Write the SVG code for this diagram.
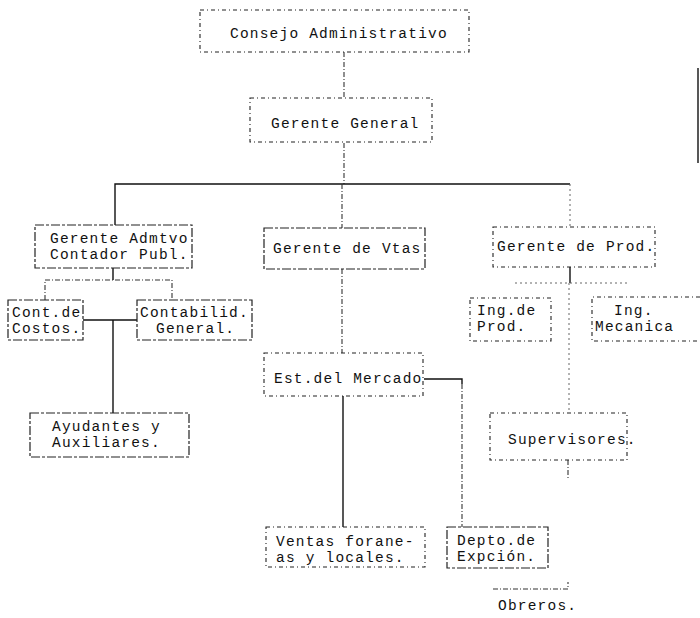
<svg xmlns="http://www.w3.org/2000/svg" width="700" height="618" viewBox="0 0 700 618">
<style>
.bx{fill:none;stroke:#222;stroke-width:1.2;stroke-dasharray:9 2 3 2}
.bx2{fill:none;stroke:#222;stroke-width:1.1;stroke-dasharray:4 3 1 3}
.ln{fill:none;stroke:#111;stroke-width:1.4}
.dl{fill:none;stroke:#333;stroke-width:1.1;stroke-dasharray:5 2 1 2}
.fl{fill:none;stroke:#666;stroke-width:1;stroke-dasharray:2 3}
text{font-family:"Liberation Mono","DejaVu Sans Mono",monospace;font-size:14.5px;letter-spacing:1.2px;fill:#111}
</style>
<rect width="700" height="618" fill="#fff"/>
<g id="connectors">
<line class="dl" x1="344" y1="52" x2="344" y2="97"/>
<line class="dl" x1="344" y1="143" x2="344" y2="184"/>
<polyline class="ln" points="115,225 115,184 570,184"/>
<line class="dl" x1="342" y1="184" x2="342" y2="228"/>
<line class="fl" x1="570" y1="184" x2="570" y2="227"/>
<line class="ln" x1="113" y1="268" x2="113" y2="280"/>
<polyline class="dl" points="45,300 45,280 172,280 172,300"/>
<line class="ln" x1="83" y1="320" x2="137" y2="320"/>
<line class="ln" x1="113" y1="320" x2="113" y2="413"/>
<line class="dl" x1="342" y1="269" x2="342" y2="353"/>
<line class="ln" x1="343" y1="396" x2="343" y2="527"/>
<polyline class="ln" points="424,379 462,379 462,384"/>
<line class="dl" x1="462" y1="384" x2="462" y2="527"/>
<line class="ln" x1="570" y1="267" x2="570" y2="283"/>
<line class="fl" x1="515" y1="283" x2="630" y2="283"/>
<line class="fl" x1="569" y1="283" x2="569" y2="413"/>
<line class="dl" x1="568" y1="460" x2="568" y2="478"/>
<polyline class="dl" points="493,589 568,589 568,582"/>
<line class="ln" x1="698" y1="68" x2="698" y2="163"/>
</g>
<g id="consejo">
<rect class="bx2" x="200" y="10" width="269" height="42"/>
<text x="230" y="38">Consejo Administrativo</text>
</g>
<g id="gerente-general">
<rect class="bx2" x="250" y="98" width="182" height="44"/>
<text x="271" y="128">Gerente General</text>
</g>
<g id="gerente-admtvo">
<rect class="bx" x="35" y="225" width="157" height="43"/>
<text x="50" y="243">Gerente Admtvo</text>
<text x="50" y="259">Contador Publ.</text>
</g>
<g id="cont-costos">
<rect class="bx" x="8" y="300" width="75" height="40"/>
<text x="12" y="317">Cont.de</text>
<text x="12" y="333">Costos.</text>
</g>
<g id="contabilid-general">
<rect class="bx" x="137" y="300" width="115" height="40"/>
<text x="140" y="317">Contabilid.</text>
<text x="156" y="333">General.</text>
</g>
<g id="ayudantes">
<rect class="bx" x="30" y="413" width="159" height="44"/>
<text x="52" y="431">Ayudantes y</text>
<text x="52" y="447">Auxiliares.</text>
</g>
<g id="gerente-vtas">
<rect class="bx" x="264" y="228" width="161" height="41"/>
<text x="273" y="253">Gerente de Vtas</text>
</g>
<g id="est-mercado">
<rect class="bx2" x="264" y="353" width="159" height="43"/>
<text x="274" y="383">Est.del Mercado</text>
</g>
<g id="ventas">
<rect class="bx2" x="266" y="527" width="159" height="40"/>
<text x="276" y="546">Ventas forane-</text>
<text x="276" y="562">as y locales.</text>
</g>
<g id="gerente-prod">
<rect class="bx2" x="493" y="227" width="162" height="40"/>
<text x="497" y="251">Gerente de Prod.</text>
</g>
<g id="ing-prod">
<rect class="bx2" x="470" y="298" width="81" height="43"/>
<text x="477" y="315">Ing.de</text>
<text x="477" y="331">Prod.</text>
</g>
<g id="ing-mecanica">
<path class="bx2" d="M700,297 H592 V341 H700"/>
<text x="614" y="315">Ing.</text>
<text x="595" y="331">Mecanica</text>
</g>
<g id="supervisores">
<rect class="bx2" x="490" y="413" width="137" height="47"/>
<text x="508" y="444">Supervisores.</text>
</g>
<g id="depto">
<rect class="bx" x="447" y="527" width="101" height="41"/>
<text x="457" y="545">Depto.de</text>
<text x="457" y="561">Expción.</text>
</g>
<g id="obreros">
<text x="498" y="610">Obreros.</text>
</g>
</svg>
